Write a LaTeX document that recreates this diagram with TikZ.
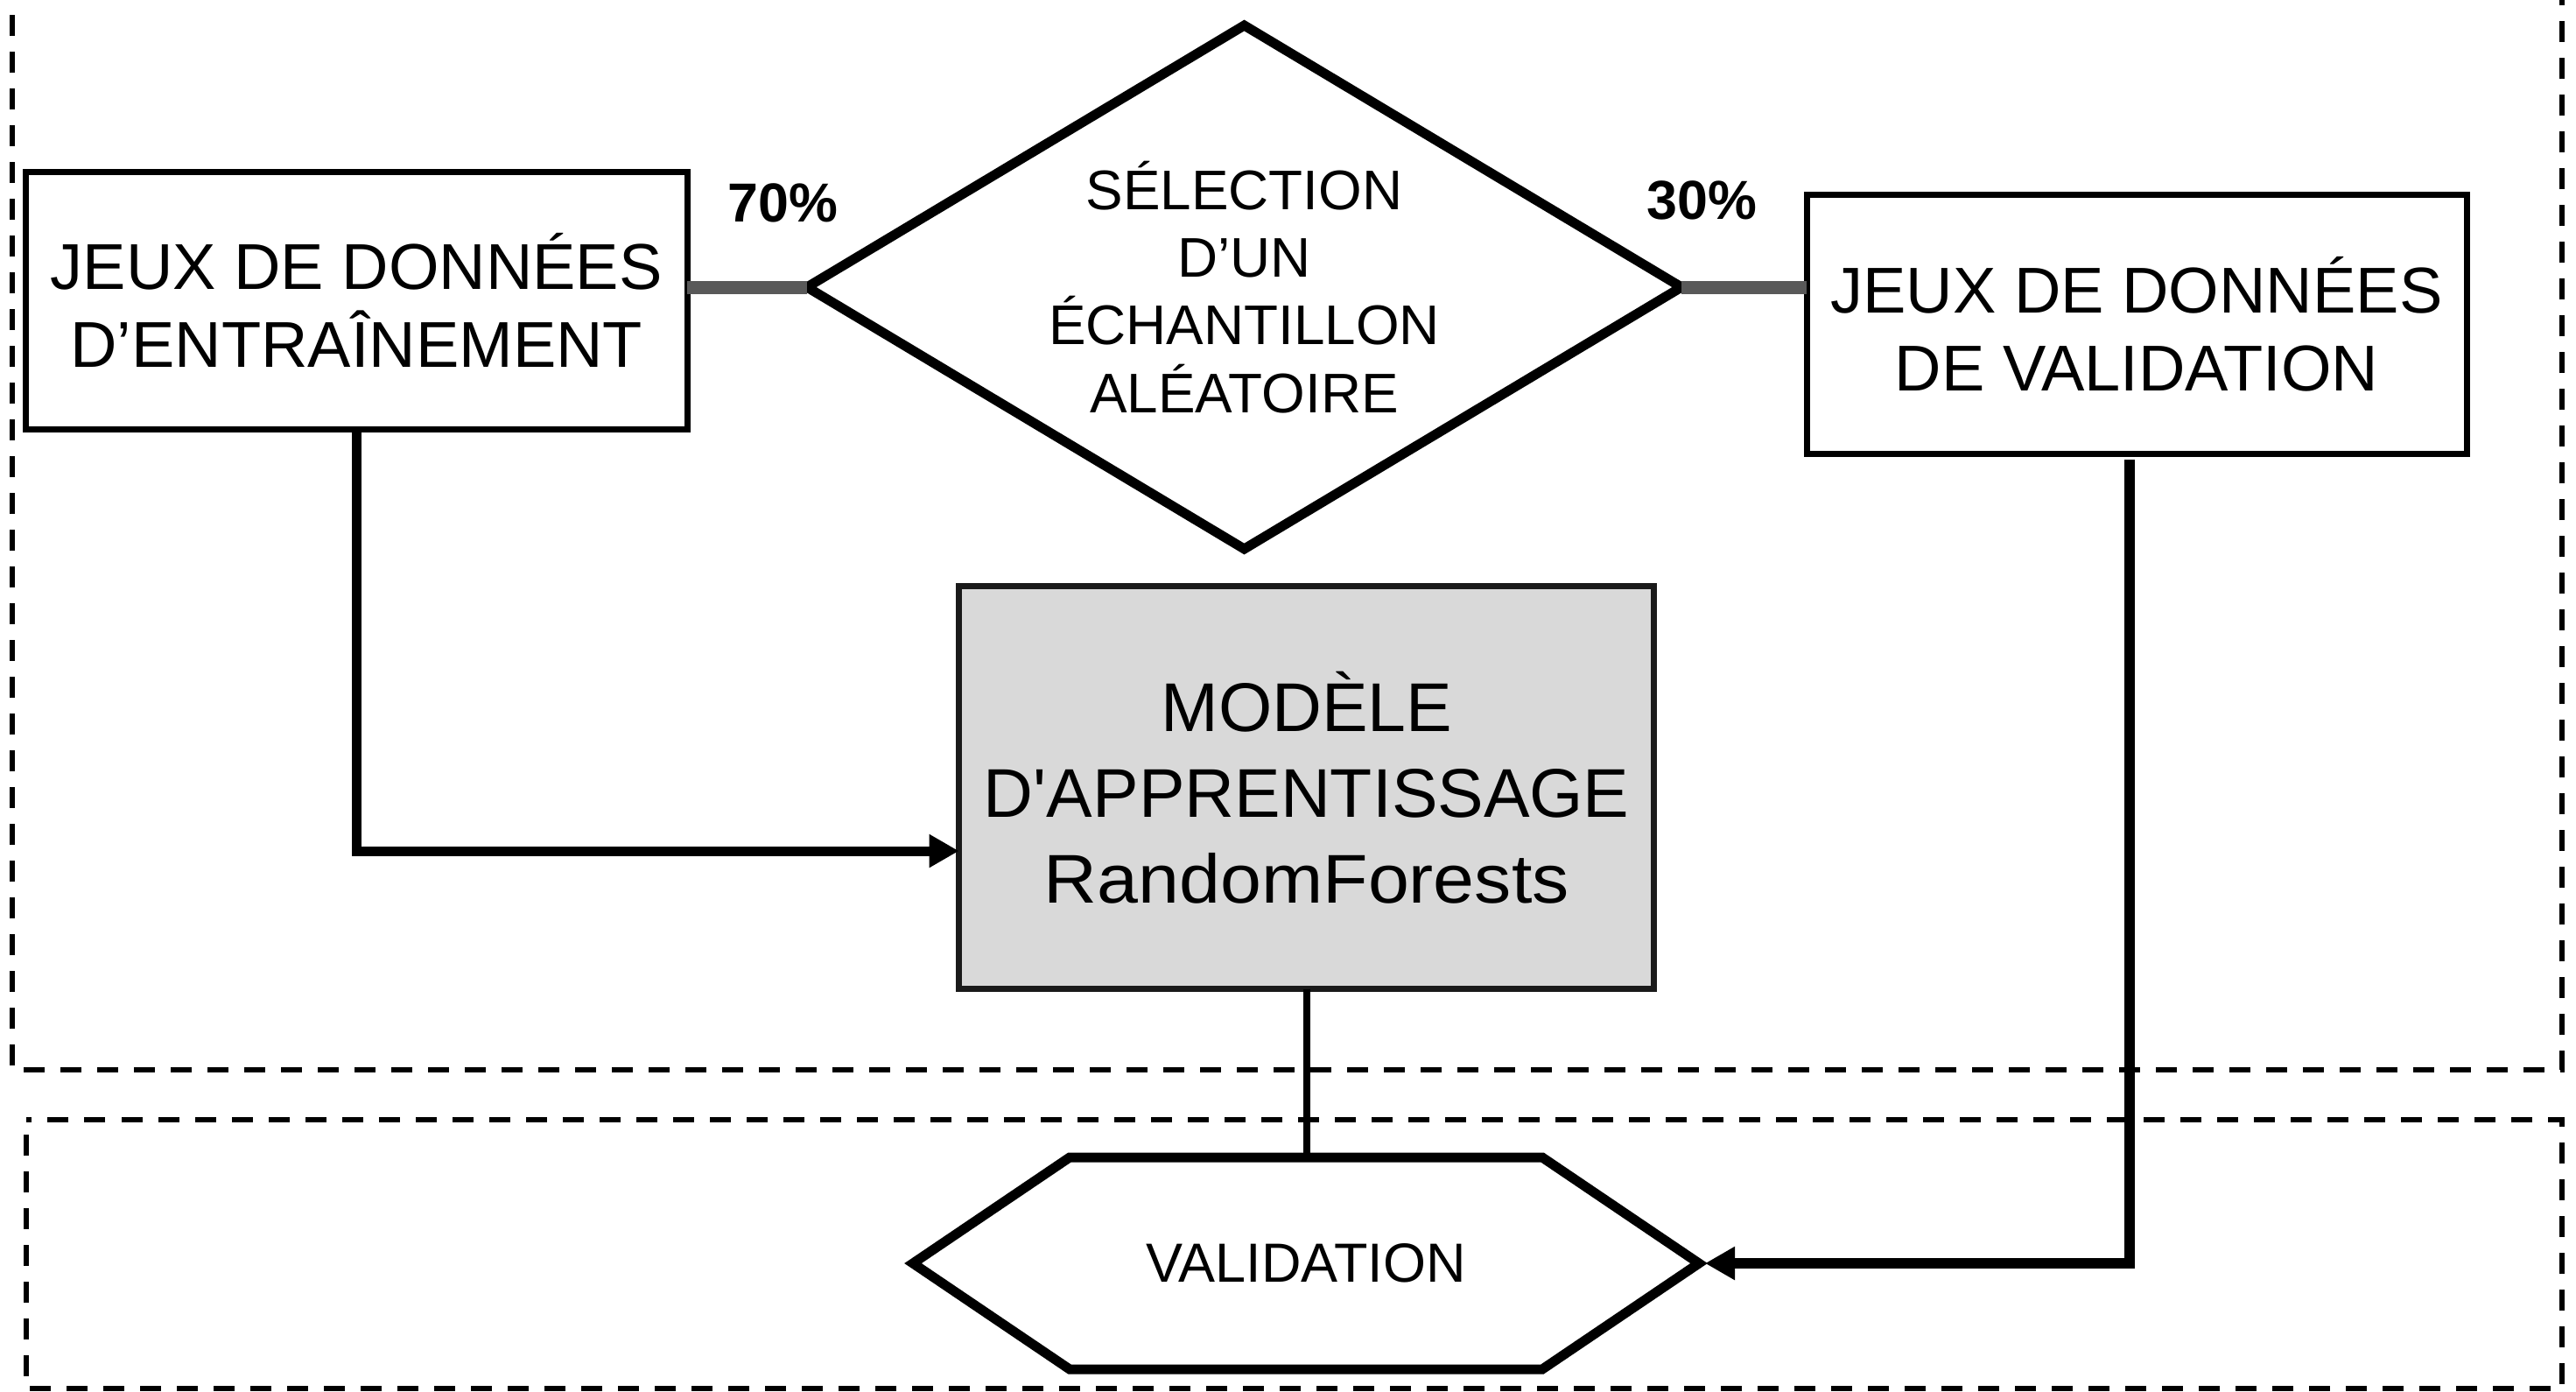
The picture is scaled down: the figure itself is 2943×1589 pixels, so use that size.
\documentclass[tikz,border=0pt]{standalone}
\usepackage{fontspec}
\setmainfont{Liberation Sans}
\newfontfamily\plainfont{Liberation Sans}[Ligatures=TeXOff]
\usetikzlibrary{arrows.meta}
\definecolor{greyfill}{HTML}{D9D9D9}
\definecolor{greyline}{HTML}{595959}
\definecolor{darkborder}{HTML}{1A1A1A}
\begin{document}
\begin{tikzpicture}[x=0.25pt,y=-0.25pt,
  databox/.style={draw=black,line width=1.75pt,align=center,inner sep=0pt,outer sep=0pt,
    font=\fontsize{18.5pt}{22.25pt}\selectfont},
  modelbox/.style={draw=darkborder,fill=greyfill,line width=1.75pt,align=center,inner sep=0pt,outer sep=0pt,
    font=\plainfont\fontsize{19.7pt}{24.6pt}\selectfont},
  shapebox/.style={draw=none,align=center,inner sep=0pt,outer sep=0pt},
  outline/.style={line width=2.75pt,line join=miter},
  pct/.style={font=\bfseries\fontsize{15.7pt}{18pt}\selectfont,inner sep=0pt},
  greyconn/.style={draw=greyline,line width=3.75pt},
  conn/.style={line width=2.75pt,-{Triangle[length=8.5pt,width=9pt]}},
  thinconn/.style={line width=2pt},
  dashbox/.style={line width=1.5pt,dash pattern=on 6pt off 4.5pt,dash phase=6.25pt}]
\useasboundingbox (0,0) rectangle (2943,1589);

% dashed frames
\draw[dashbox] (14,0) -- (14,1222) -- (2927,1222) -- (2927,0);
\draw[dashbox] (29.5,1279) rectangle (2927,1585.5);

% nodes
\node[databox,minimum width=188.875pt,minimum height=73.5pt] (train) at (407.25,343)
  {JEUX DE DONNÉES\\D’ENTRAÎNEMENT};
\node[databox,minimum width=188.5pt,minimum height=74pt] (vbox) at (2441,370)
  {JEUX DE DONNÉES\\DE VALIDATION};
\node[shapebox,minimum width=249.75pt,minimum height=149.5pt,
  font=\fontsize{15.95pt}{19.3pt}\selectfont] (sel) at (1421.5,328)
  {SÉLECTION\\D’UN\\ÉCHANTILLON\\ALÉATOIRE};
\draw[outline] (sel.west) -- (sel.north) -- (sel.east) -- (sel.south) -- cycle;
\node[modelbox,minimum width=198.6pt,minimum height=115.1pt] (model) at (1492.75,899.75)
  {MODÈLE\\D'APPRENTISSAGE\\\scalebox{1.07}[1]{RandomForests}};
\node[shapebox,minimum width=224.5pt,minimum height=60.5pt,
  font=\fontsize{15.75pt}{18pt}\selectfont] (val) at (1492,1443) {VALIDATION};
\draw[outline] (val.west) -- ([xshift=44.75pt]val.north west) -- ([xshift=-44.75pt]val.north east)
  -- (val.east) -- ([xshift=-44.75pt]val.south east) -- ([xshift=44.75pt]val.south west) -- cycle;

\node[pct] (p70) at (894.5,232) {70\%};
\node[pct] (p30) at (1944,229) {30\%};

% connectors
\draw[greyconn] (train.east |- sel.west) -- (sel.west);
\draw[greyconn] (sel.east) -- (vbox.west |- sel.east);
\draw[conn] (train.south) |- ([yshift=-18.06pt]model.west);
\coordinate (vout) at (2433,525);
\draw[conn,line width=3pt] (vout) |- ([xshift=1.75pt]val.east);
\draw[thinconn] (model.south) -- (model.south |- val.north);
\end{tikzpicture}
\end{document}
